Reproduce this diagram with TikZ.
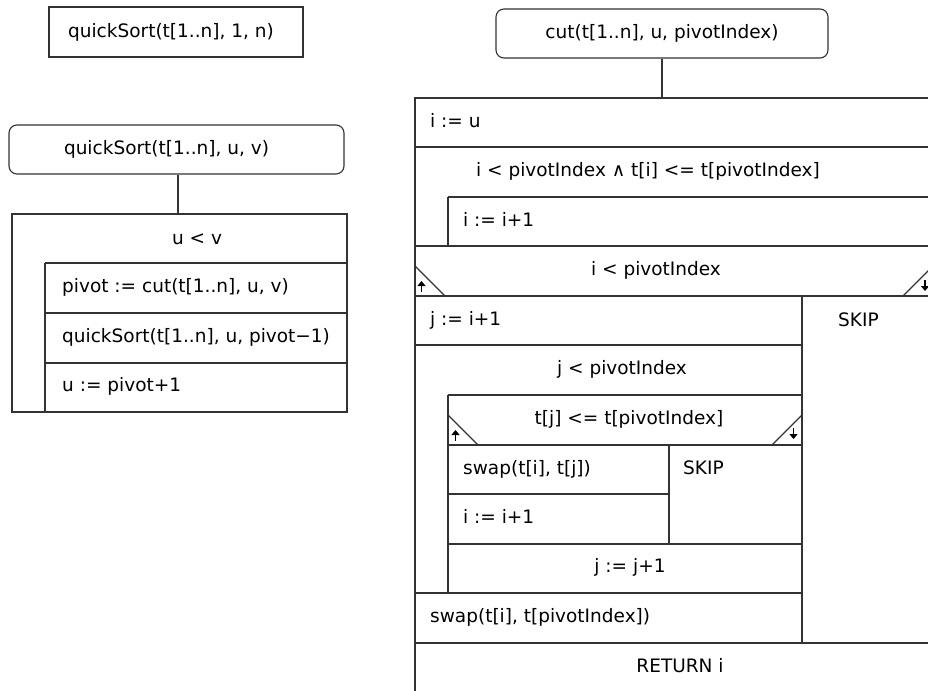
\documentclass[tikz,border=0pt]{standalone}
\usepackage{fontspec}
\setmainfont{DejaVu Sans}
\usetikzlibrary{arrows.meta}
\begin{document}
\begin{tikzpicture}[x=1pt,y=-1pt,
  ln/.style={draw=black!80, line width=1.1pt},
  txt/.style={inner sep=0pt, font=\fontsize{18.5}{20}\selectfont, text=black, text height=13pt, text depth=4pt},
  lt/.style={txt, anchor=west},
  ct/.style={txt, anchor=center},
  hdr/.style={ln, minimum height=49pt, font=\fontsize{18.5}{20}\selectfont, text=black, inner sep=0pt},
  arr/.style={-{Triangle[length=5pt,width=8pt]}, draw=black, line width=1.8pt}]
\useasboundingbox (0,0) rectangle (928,690);
\clip (0,0) rectangle (928,690);
\fill[white] (0,0) rectangle (928,690);

% ---------- left: calls ----------
\node[hdr, minimum width=254pt, minimum height=50pt] (call) at (176,32) {\hspace*{-10pt}quickSort(t[1..n], 1, n)};
\node[hdr, minimum width=335pt, rounded corners=8pt] (qs) at (176.5,149.5) {\hspace*{-20pt}quickSort(t[1..n], u, v)};
\coordinate (qstop) at (178,214);
\draw[ln] (qs.south -| qstop) -- (qstop);

% left body
\draw[ln] (12,214) rectangle (347,412);
\draw[ln] (45,263) -- (347,263);
\draw[ln] (45,263) -- (45,412);
\draw[ln] (45,313) -- (347,313);
\draw[ln] (45,363) -- (347,363);

\node[ct] (uv) at (197,240) {u < v};
\node[lt] (piv) at (62,288) {pivot := cut(t[1..n], u, v)};
\node[lt] (rec) at (62,338) {quickSort(t[1..n], u, pivot−1)};
\node[lt] (upd) at (62,387) {u := pivot+1};

% ---------- right: cut ----------
\node[hdr, minimum width=332pt, rounded corners=8pt] (cut) at (662,33.5) {cut(t[1..n], u, pivotIndex)};
\coordinate (cuttop) at (662,98);
\draw[ln] (cut.south -| cuttop) -- (cuttop);

% outer frame
\draw[ln] (415,700) -- (415,98) -- (933,98) -- (933,700);
\draw[ln] (415,147) -- (933,147);
\draw[ln] (448,197) -- (933,197);
\draw[ln] (448,197) -- (448,246);
\draw[ln] (415,246) -- (933,246);
\draw[ln] (415,296) -- (933,296);
% if triangles
\draw[ln] (415,266) -- (445,296);
\draw[ln] (933,266) -- (903,296);
\draw[arr] (421.5,292) -- (421.5,281);
\draw[arr] (925,280) -- (925,291);
% then / else divider
\draw[ln] (802,296) -- (802,643);
\draw[ln] (415,345) -- (802,345);
\draw[ln] (448,395) -- (802,395);
\draw[ln] (448,395) -- (448,593);
\draw[ln] (448,445) -- (802,445);
\draw[ln] (448,415) -- (478,445);
\draw[ln] (802,415) -- (772,445);
\draw[arr] (455.5,441) -- (455.5,430);
\draw[arr] (793.5,428) -- (793.5,439);
\draw[ln] (669,445) -- (669,544);
\draw[ln] (448,494) -- (669,494);
\draw[ln] (448,544) -- (802,544);
\draw[ln] (415,593) -- (802,593);
\draw[ln] (415,643) -- (933,643);

% texts
\node[lt] (iu) at (430,123) {i := u};
\node[ct] (w1) at (648,172) {i < pivotIndex ∧ t[i] <= t[pivotIndex]};
\node[lt] (inc1) at (463,222) {i := i+1};
\node[ct] (if1) at (656,271) {i < pivotIndex};
\node[lt] (ji) at (430,321) {j := i+1};
\node[lt] (skip1) at (838,322) {SKIP};
\node[ct] (w2) at (622,370) {j < pivotIndex};
\node[ct] (if2) at (629,420) {t[j] <= t[pivotIndex]};
\node[lt] (sw1) at (463,470) {swap(t[i], t[j])};
\node[lt] (skip2) at (683,470) {SKIP};
\node[lt] (inc2) at (463,519) {i := i+1};
\node[ct] (jinc) at (630,568) {j := j+1};
\node[lt] (sw2) at (430,618) {swap(t[i], t[pivotIndex])};
\node[ct] (ret) at (680,668) {RETURN i};
\end{tikzpicture}
\end{document}
